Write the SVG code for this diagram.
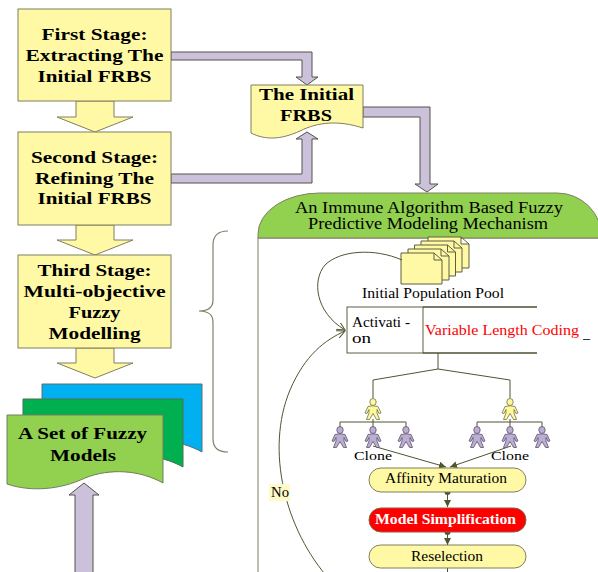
<svg xmlns="http://www.w3.org/2000/svg" width="598" height="572" viewBox="0 0 598 572">
<defs>
<style>
.box{fill:#FFF9A6;stroke:#7F7F60;stroke-width:1}
.t{fill:#000;text-anchor:middle;font-family:"Liberation Serif","Times New Roman",serif}
.b{font-weight:bold;font-size:17px}
.s{font-size:14px}
.pur{fill:#CCC1DA;stroke:#55504A;stroke-width:1}
.ln{fill:none;stroke:#4F5530;stroke-width:1}
.doc{fill:#FFF9A6;stroke:#5F5F40;stroke-width:1}
.py{fill:#FFF99A;stroke:#6F6F50;stroke-width:0.8}
.pp{fill:#BCAED0;stroke:#5A5070;stroke-width:0.8}
.pill{fill:#FFF9A6;stroke:#7F7F60;stroke-width:1}
</style>
<marker id="open" markerWidth="10" markerHeight="10" refX="8" refY="4" orient="auto" markerUnits="userSpaceOnUse">
<path d="M0,0 L8,4 L0,8" fill="none" stroke="#4F5530" stroke-width="1"/>
</marker>
<marker id="fill" markerWidth="8" markerHeight="8" refX="7" refY="3.5" orient="auto" markerUnits="userSpaceOnUse">
<path d="M0,0 L7,3.5 L0,7 Z" fill="#4F5530"/>
</marker>
<symbol id="person" viewBox="0 0 18 22">
<ellipse cx="9" cy="4" rx="3.2" ry="3.5"/>
<path d="M4,8.5 Q9,7 14,8.5 L17,15 L15,15.5 L13,11.5 L13,15 L15.5,21.5 L12.5,21.5 L9,15.5 L5.5,21.5 L2.5,21.5 L5,15 L5,11.5 L3,15.5 L1,15 Z"/>
</symbol>
</defs>
<rect x="0" y="0" width="598" height="572" fill="#FFFFFF"/>

<g id="connectors">
<polygon class="box" points="76,101 114,101 114,117 133,117 95,132 57,117 76,117"/>
<polygon class="box" points="76,225 114,225 114,240 133,240 95,255 57,240 76,240"/>
<polygon class="box" points="76,348 114,348 114,363 133,363 95,378 57,363 76,363"/>
<polygon class="pur" points="171,52 312,52 312,77 318,77 307,85 296,77 302,77 302,60 171,60"/>
<polygon class="pur" points="171,183 312,183 312,139 318,139 307,132 296,139 302,139 302,174 171,174"/>
<polygon class="pur" points="363,107 430,107 430,184 438,184 427,192 415,184 420,184 420,117 363,117"/>
<polygon class="pur" points="75,573 75,495 69,495 84,483 99,495 93,495 93,573"/>
<path d="M228,231 C218,231 213,236 213,245 V300 C213,308 208,311 199,311 C208,311 213,314 213,322 V439 C213,448 218,452 228,452" fill="none" stroke="#7F7F6A" stroke-width="1.2"/>
</g>

<g id="node-stage1">
<rect class="box" x="18" y="9" width="153" height="92"/>
<text class="t b" x="94.5" y="40" textLength="106" lengthAdjust="spacingAndGlyphs">First Stage:</text>
<text class="t b" x="94.5" y="61" textLength="138" lengthAdjust="spacingAndGlyphs">Extracting The</text>
<text class="t b" x="94.5" y="82" textLength="114" lengthAdjust="spacingAndGlyphs">Initial FRBS</text>
</g>
<g id="node-stage2">
<rect class="box" x="18" y="132" width="153" height="93"/>
<text class="t b" x="94.5" y="163" textLength="127" lengthAdjust="spacingAndGlyphs">Second Stage:</text>
<text class="t b" x="94.5" y="184" textLength="119" lengthAdjust="spacingAndGlyphs">Refining The</text>
<text class="t b" x="94.5" y="204" textLength="114" lengthAdjust="spacingAndGlyphs">Initial FRBS</text>
</g>
<g id="node-stage3">
<rect class="box" x="18" y="255" width="153" height="93"/>
<text class="t b" x="94.5" y="276" textLength="114" lengthAdjust="spacingAndGlyphs">Third Stage:</text>
<text class="t b" x="94.5" y="297" textLength="142" lengthAdjust="spacingAndGlyphs">Multi-objective</text>
<text class="t b" x="94.5" y="318" textLength="52" lengthAdjust="spacingAndGlyphs">Fuzzy</text>
<text class="t b" x="94.5" y="339" textLength="92" lengthAdjust="spacingAndGlyphs">Modelling</text>
</g>
<g id="node-models">
<path d="M42,384 H202 V452 C179,439 147,437 122,447 C97,459 65,461 42,453 Z" fill="#00B0F0" stroke="#5F6F6F" stroke-width="1"/>
<path d="M23,399 H183 V467 C160,454 128,452 103,462 C78,474 46,476 23,468 Z" fill="#00B050" stroke="#4F6F4F" stroke-width="1"/>
<path d="M7,415 H163 V483 C140,470 110,468 85,478 C60,490 30,492 7,484 Z" fill="#92D050" stroke="#6F7F5F" stroke-width="1"/>
<text class="t b" x="82.5" y="439" textLength="129" lengthAdjust="spacingAndGlyphs">A Set of Fuzzy</text>
<text class="t b" x="83" y="461" textLength="66" lengthAdjust="spacingAndGlyphs">Models</text>
</g>
<g id="node-initial-frbs">
<path class="box" d="M251,85 H363 V128 C338,120 318,122 300,131 C280,140 265,140 251,133 Z"/>
<text class="t b" x="306.5" y="100" textLength="95" lengthAdjust="spacingAndGlyphs">The Initial</text>
<text class="t b" x="306" y="121" textLength="52" lengthAdjust="spacingAndGlyphs">FRBS</text>
</g>

<g id="node-immune">
<rect x="258" y="238" width="350" height="340" fill="#FFFFFF" stroke="#7F7F60" stroke-width="1"/>
<path d="M258,238 V234 A62 41 0 0 1 320,193 H557 A45 45 0 0 1 602,238 Z" fill="#92D050" stroke="#7F7F60" stroke-width="1"/>
<text class="t" font-size="16" x="429" y="213" textLength="268" lengthAdjust="spacingAndGlyphs">An Immune Algorithm Based Fuzzy</text>
<text class="t" font-size="16" x="428" y="229" textLength="240" lengthAdjust="spacingAndGlyphs">Predictive Modeling Mechanism</text>
</g>

<g id="node-population">
<path class="doc" d="M428,237 H461 L469,244 V268 H428 Z M461,237 V244 H469"/>
<path class="doc" d="M421,241 H454 L462,248 V272 H421 Z M454,241 V248 H462"/>
<path class="doc" d="M414.5,245 H447.5 L455.5,252 V276 H414.5 Z M447.5,245 V252 H455.5"/>
<path class="doc" d="M408,249 H441 L449,256 V280 H408 Z M441,249 V256 H449"/>
<path class="doc" d="M401,253 H434 L442,260 V284 H401 Z M434,253 V260 H442"/>
<text class="t s" x="433" y="298" textLength="142" lengthAdjust="spacingAndGlyphs">Initial Population Pool</text>
</g>

<g id="node-coding">
<rect x="347" y="307" width="76" height="46" fill="#FFFFFF" stroke="#5F5F40" stroke-width="1"/>
<path d="M423,307 H537 M423,353 H537" fill="none" stroke="#4F4F35" stroke-width="1.6"/>
<text class="t s" style="text-anchor:start" x="352" y="327" textLength="58" lengthAdjust="spacingAndGlyphs">Activati -</text>
<text class="t s" style="text-anchor:start" x="352" y="343" textLength="19" lengthAdjust="spacingAndGlyphs">on</text>
<text class="t s" style="text-anchor:start;fill:#FF0000" x="425" y="335" textLength="154" lengthAdjust="spacingAndGlyphs">Variable Length Coding</text>
<text class="t s" style="text-anchor:start" x="583" y="338">_</text>
</g>

<g id="connectors-inner">
<path class="ln" d="M438,353 V369" stroke-width="2"/>
<path class="ln" d="M438,369 L373,380 V398 M438,369 L510,380 V398"/>
<path class="ln" d="M373,419 V422 M340,422 H406 M340,422 V427 M373,422 V427 M406,422 V427"/>
<path class="ln" d="M510,419 V422 M477,422 H542 M477,422 V427 M510,422 V427 M542,422 V427"/>
<path class="ln" d="M373,446 L446,467" marker-end="url(#fill)"/>
<path class="ln" d="M511,446 L450,467" marker-end="url(#fill)"/>
<path class="ln" d="M402,260 C375,248 340,250 325,265 C312,280 315,312 345,330" marker-end="url(#open)"/>
<path class="ln" d="M330,580 C285,530 265,450 290,390 C305,355 325,340 345,331" marker-end="url(#open)"/>
<circle cx="447.5" cy="492" r="3" fill="#4F5530"/>
<path class="ln" d="M447.5,492 V507" stroke-width="1.5" marker-end="url(#fill)"/>
<circle cx="447.5" cy="532" r="3" fill="#4F5530"/>
<path class="ln" d="M447.5,532 V545" stroke-width="1.5" marker-end="url(#fill)"/>
<path class="ln" d="M447.5,568 V572"/>
</g>

<g id="node-antibodies">
<use href="#person" class="py" x="364" y="398" width="18" height="22"/>
<use href="#person" class="py" x="501" y="398" width="18" height="22"/>
<use href="#person" class="pp" x="331" y="426" width="18" height="22"/>
<use href="#person" class="pp" x="364" y="426" width="18" height="22"/>
<use href="#person" class="pp" x="397" y="426" width="18" height="22"/>
<use href="#person" class="pp" x="468" y="426" width="18" height="22"/>
<use href="#person" class="pp" x="501" y="426" width="18" height="22"/>
<use href="#person" class="pp" x="533" y="426" width="18" height="22"/>
<text class="t" font-size="13" x="373" y="460" textLength="38" lengthAdjust="spacingAndGlyphs">Clone</text>
<text class="t" font-size="13" x="510" y="460" textLength="38" lengthAdjust="spacingAndGlyphs">Clone</text>
</g>

<g id="node-affinity">
<rect class="pill" x="369" y="468" width="157" height="24" rx="12"/>
<text class="t s" x="446" y="483" textLength="122" lengthAdjust="spacingAndGlyphs">Affinity Maturation</text>
</g>
<g id="node-simplification">
<rect x="369" y="508" width="157" height="24" rx="12" fill="#FF0000" stroke="#8F5F40" stroke-width="1"/>
<text class="t s" style="fill:#FFFFFF;font-weight:bold" x="445.5" y="524" textLength="141" lengthAdjust="spacingAndGlyphs">Model Simplification</text>
</g>
<g id="node-reselection">
<rect class="pill" x="369" y="545" width="157" height="23" rx="11.5"/>
<text class="t s" x="447" y="561" textLength="72" lengthAdjust="spacingAndGlyphs">Reselection</text>
</g>
<g id="label-no">
<rect x="269" y="484" width="21" height="17" fill="#FFFBC8"/>
<text class="t s" x="280" y="497" textLength="18" lengthAdjust="spacingAndGlyphs">No</text>
</g>
</svg>
